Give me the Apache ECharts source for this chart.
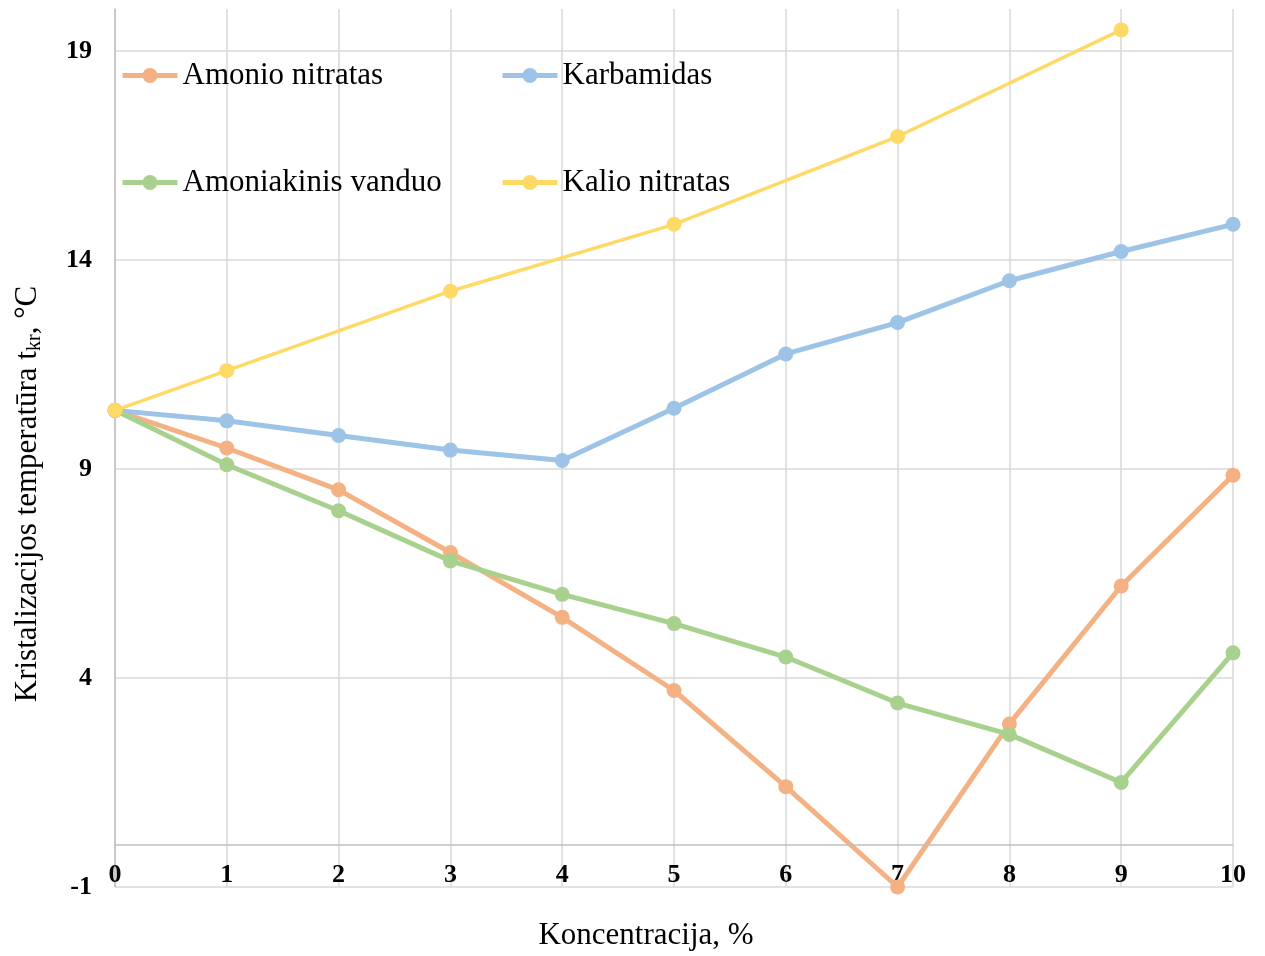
<!DOCTYPE html>
<html>
<head>
<meta charset="utf-8">
<script src="https://cdn.jsdelivr.net/npm/echarts@6/dist/echarts.min.js"></script>
<style>
  html, body { margin: 0; padding: 0; background: #fff; }
  #chart { width: 1265px; height: 956px; }
</style>
</head>
<body>
<div id="chart"></div>
<script>
// koncentracija, %
var xValues = [0, 1, 2, 3, 4, 5, 6, 7, 8, 9, 10];
var amonioNitratas = [10.4, 9.5, 8.5, 7.0, 5.45, 3.7, 1.4, -1.0, 2.9, 6.2, 8.85];
var karbamidas = [10.4, 10.15, 9.8, 9.45, 9.2, 10.45, 11.75, 12.5, 13.5, 14.2, 14.85];
var amoniakinisVanduo = [10.4, 9.1, 8.0, 6.8, 6.0, 5.3, 4.5, 3.4, 2.65, 1.5, 4.6];
var kalioX = [0, 1, 3, 5, 7, 9];
var kalioNitratas = [10.4, 11.35, 13.25, 14.85, 16.95, 19.5];

var names = ['Amonio nitratas', 'Karbamidas', 'Amoniakinis vanduo', 'Kalio nitratas'];
var colors = ['#F4B183', '#9DC3E6', '#A9D18E', '#FFD966'];

var serif = "'Times New Roman', 'Liberation Serif', serif";

function pairs(xs, ys) {
    return xs.map(function (x, i) { return [x, ys[i]]; });
}

var chart = echarts.init(document.getElementById('chart'));

function legendAt(name, left, top) {
    return {
        data: [name],
        left: left,
        top: top,
        itemWidth: 55,
        itemHeight: 19,
        itemGap: 5,
        padding: 0,
        lineStyle: { width: 5 },
        textStyle: { fontFamily: serif, fontSize: 31, color: '#000' }
    };
}

function lineSeries(idx, data, width) {
    return {
        name: names[idx],
        type: 'line',
        data: data,
        symbol: 'circle',
        symbolSize: 15,
        color: colors[idx],
        lineStyle: { width: width, color: colors[idx] },
        itemStyle: { color: colors[idx] },
        z: 2 + idx,
        animation: false
    };
}

var series = [
    lineSeries(0, pairs(xValues, amonioNitratas), 5),
    lineSeries(1, pairs(xValues, karbamidas), 5),
    lineSeries(2, pairs(xValues, amoniakinisVanduo), 5),
    lineSeries(3, pairs(kalioX, kalioNitratas), 3.5)
];
// linija ties 0
series[0].markLine = {
    silent: true,
    symbol: 'none',
    label: { show: false },
    lineStyle: { color: '#BFBFBF', width: 1.5, type: 'solid' },
    data: [{ yAxis: 0 }],
    animation: false
};

chart.setOption({
    backgroundColor: '#fff',
    textStyle: { fontFamily: serif },
    grid: { left: 115, right: 32, top: 9, bottom: 65 },
    legend: [
        legendAt(names[0], 120, 60),
        legendAt(names[1], 500, 60),
        legendAt(names[2], 120, 167),
        legendAt(names[3], 500, 167)
    ],
    xAxis: {
        type: 'value',
        min: 0,
        max: 10,
        interval: 1,
        name: 'Koncentracija, %',
        nameLocation: 'middle',
        nameGap: 33,
        nameTextStyle: { fontFamily: serif, fontSize: 31, color: '#000', padding: [0, 56, 0, 0] },
        axisLine: { show: false },
        axisTick: { show: false },
        axisLabel: { fontFamily: serif, fontSize: 26, fontWeight: 'bold', color: '#000', margin: -25 },
        splitLine: { show: true, lineStyle: { color: '#D9D9D9', width: 1.5 } }
    },
    yAxis: {
        type: 'value',
        min: -1,
        max: 20,
        interval: 5,
        name: '{a|Kristalizacijos temperatūra t}{s|kr}{a|, °C}',
        nameLocation: 'middle',
        nameGap: 70,
        nameTextStyle: {
            padding: [0, 92, 0, 0],
            rich: {
                a: { fontFamily: serif, fontSize: 31, color: '#000' },
                s: { fontFamily: serif, fontSize: 20, color: '#000', padding: [14, 0, 0, 0] }
            }
        },
        axisLine: { show: true, lineStyle: { color: '#BFBFBF', width: 1.5 } },
        axisTick: { show: false },
        axisLabel: { fontFamily: serif, fontSize: 26, fontWeight: 'bold', color: '#000', margin: 23, showMaxLabel: false },
        splitLine: { show: true, showMaxLine: false, lineStyle: { color: '#D9D9D9', width: 1.5 } }
    },
    series: series
});
</script>
</body>
</html>
